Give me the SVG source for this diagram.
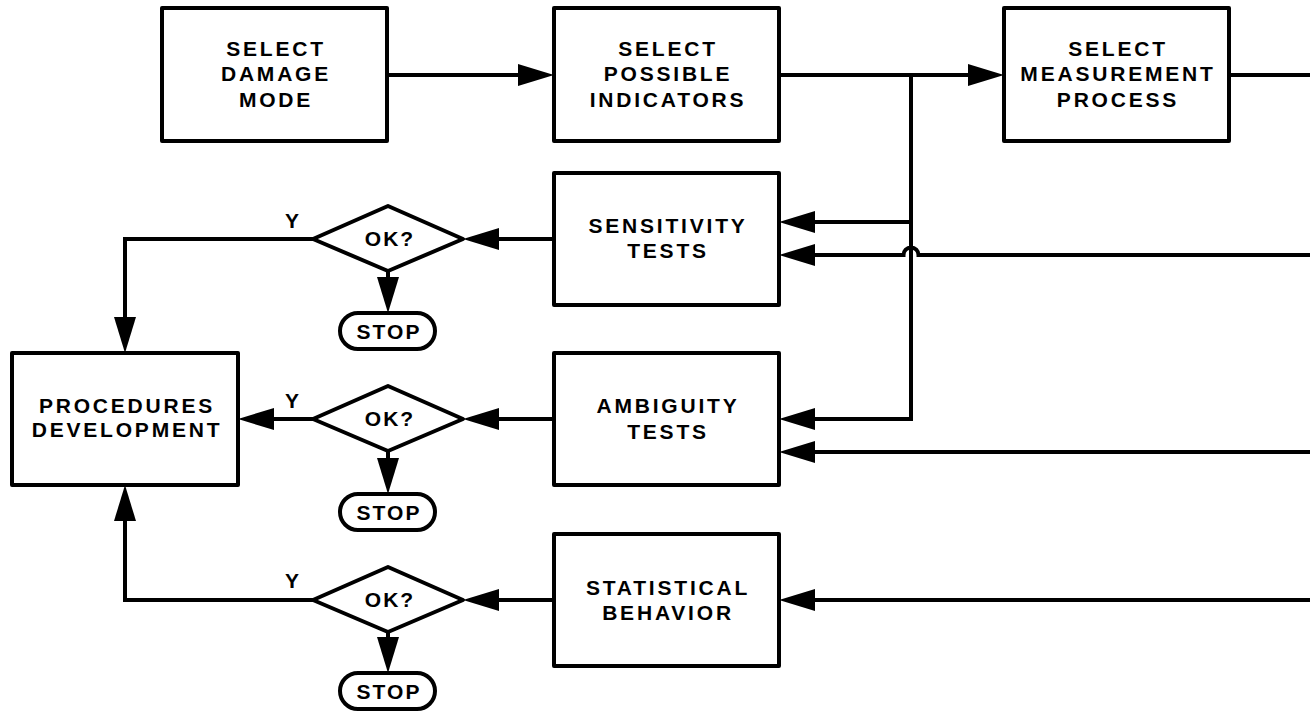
<svg xmlns="http://www.w3.org/2000/svg" width="1310" height="714" viewBox="0 0 1310 714">
<style>
.box{fill:#fff;stroke:#000;stroke-width:4;stroke-linejoin:round}
.ln{fill:none;stroke:#000;stroke-width:4;stroke-linejoin:miter}
.ah{fill:#000;stroke:none}
.t{font-family:"Liberation Sans",Arial,sans-serif;font-weight:bold;font-size:21px;letter-spacing:2.8px;text-anchor:middle;fill:#000}
.s{font-family:"Liberation Sans",Arial,sans-serif;font-weight:bold;font-size:21px;letter-spacing:2px;text-anchor:middle;fill:#000}
</style>
<rect width="1310" height="714" fill="#fff"/>
<g id="connectors">
<path class="ln" d="M387 75 H518"/>
<polygon class="ah" points="554,75 518,64 518,86"/>
<path class="ln" d="M779 75 H968"/>
<polygon class="ah" points="1004,75 968,64 968,86"/>
<path class="ln" d="M1229 75 H1310"/>
<path class="ln" d="M911 75 V419 H815"/>
<path class="ln" d="M911 222 H815"/>
<polygon class="ah" points="779,222 815,211 815,233"/>
<path class="ln" d="M1310 255 H918.5 A7.5 7.5 0 0 0 903.5 255 H815"/>
<polygon class="ah" points="779,255 815,244 815,266"/>
<polygon class="ah" points="779,419 815,408 815,430"/>
<path class="ln" d="M1310 452 H815"/>
<polygon class="ah" points="779,452 815,441 815,463"/>
<path class="ln" d="M1310 600 H815"/>
<polygon class="ah" points="779,600 815,589 815,611"/>
<path class="ln" d="M554 239 H499"/>
<polygon class="ah" points="463,239 499,228 499,250"/>
<path class="ln" d="M554 419 H499"/>
<polygon class="ah" points="463,419 499,408 499,430"/>
<path class="ln" d="M554 600 H499"/>
<polygon class="ah" points="463,600 499,589 499,611"/>
<path class="ln" d="M388 271 V277"/>
<polygon class="ah" points="388,313 377,277 399,277"/>
<path class="ln" d="M388 451 V458"/>
<polygon class="ah" points="388,494 377,458 399,458"/>
<path class="ln" d="M388 632 V637"/>
<polygon class="ah" points="388,673 377,637 399,637"/>
<path class="ln" d="M313 239 H125 V317"/>
<polygon class="ah" points="125,353 114,317 136,317"/>
<path class="ln" d="M313 419 H274"/>
<polygon class="ah" points="238,419 274,408 274,430"/>
<path class="ln" d="M313 600 H125 V521"/>
<polygon class="ah" points="125,485 114,521 136,521"/>
<text class="s" x="293" y="228">Y</text>
<text class="s" x="293" y="408">Y</text>
<text class="s" x="293" y="588">Y</text>
</g>
<g id="select-damage-mode">
<rect class="box" x="162" y="8" width="225" height="133"/>
<text class="t" x="276" y="56">SELECT</text>
<text class="t" x="276" y="81">DAMAGE</text>
<text class="t" x="276" y="107">MODE</text>
</g>
<g id="select-possible-indicators">
<rect class="box" x="554" y="8" width="225" height="133"/>
<text class="t" x="668" y="56">SELECT</text>
<text class="t" x="668" y="81">POSSIBLE</text>
<text class="t" x="668" y="107">INDICATORS</text>
</g>
<g id="select-measurement-process">
<rect class="box" x="1004" y="8" width="225" height="133"/>
<text class="t" x="1118" y="56">SELECT</text>
<text class="t" x="1118" y="81">MEASUREMENT</text>
<text class="t" x="1118" y="107">PROCESS</text>
</g>
<g id="sensitivity-tests">
<rect class="box" x="554" y="173" width="225" height="132"/>
<text class="t" x="668" y="233">SENSITIVITY</text>
<text class="t" x="668" y="258">TESTS</text>
</g>
<g id="ambiguity-tests">
<rect class="box" x="554" y="353" width="225" height="132"/>
<text class="t" x="668" y="413">AMBIGUITY</text>
<text class="t" x="668" y="439">TESTS</text>
</g>
<g id="statistical-behavior">
<rect class="box" x="554" y="534" width="225" height="132"/>
<text class="t" x="668" y="595">STATISTICAL</text>
<text class="t" x="668" y="620">BEHAVIOR</text>
</g>
<g id="procedures-development">
<rect class="box" x="12" y="353" width="226" height="132"/>
<text class="t" x="127" y="413">PROCEDURES</text>
<text class="t" x="127" y="437">DEVELOPMENT</text>
</g>
<g id="ok1">
<polygon class="box" points="313,239 388,206 463,239 388,271"/>
<text class="s" x="390" y="246">OK?</text>
</g>
<g id="ok2">
<polygon class="box" points="313,419 388,386 463,419 388,451"/>
<text class="s" x="390" y="426">OK?</text>
</g>
<g id="ok3">
<polygon class="box" points="313,600 388,567 463,600 388,632"/>
<text class="s" x="390" y="607">OK?</text>
</g>
<g id="stop1">
<rect class="box" x="340" y="313" width="95" height="36" rx="18"/>
<text class="s" x="389" y="339">STOP</text>
</g>
<g id="stop2">
<rect class="box" x="340" y="494" width="95" height="36" rx="18"/>
<text class="s" x="389" y="520">STOP</text>
</g>
<g id="stop3">
<rect class="box" x="340" y="673" width="95" height="36" rx="18"/>
<text class="s" x="389" y="699">STOP</text>
</g>
</svg>
